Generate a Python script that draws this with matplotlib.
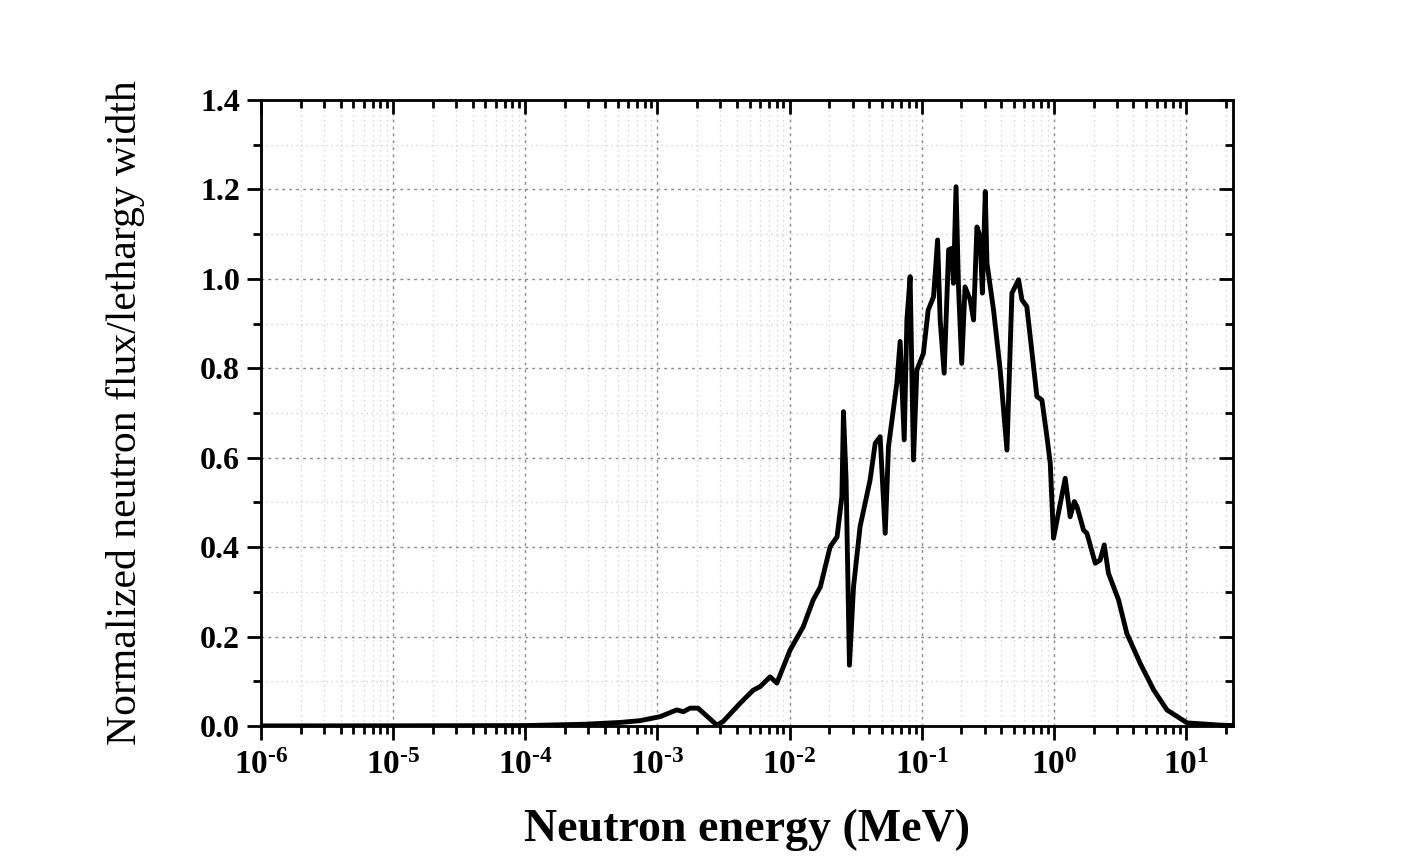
import numpy as np
import matplotlib
matplotlib.use("Agg")
import matplotlib.pyplot as plt
from matplotlib.ticker import LogLocator, MultipleLocator, FuncFormatter

# spectrum (energy in MeV, flux per lethargy, normalised)
energy = [1.0e-6, 3.16e-6, 1.0e-5, 2.7e-5, 1.0e-4, 2.84e-4, 5.22e-4, 7.40e-4,
          1.05e-3, 1.40e-3, 1.57e-3, 1.77e-3, 2.03e-3, 2.82e-3, 3.14e-3, 4.23e-3,
          5.30e-3, 5.98e-3, 7.13e-3, 8.02e-3, 1.01e-2, 1.27e-2, 1.51e-2, 1.71e-2,
          2.03e-2, 2.29e-2, 2.49e-2, 2.56e-2, 2.68e-2, 2.84e-2, 3.05e-2, 3.42e-2,
          4.07e-2, 4.45e-2, 4.85e-2, 5.30e-2, 5.61e-2, 6.49e-2, 6.87e-2, 7.38e-2,
          7.73e-2, 8.18e-2, 8.67e-2, 9.20e-2, 0.103, 0.112, 0.123, 0.132,
          0.138, 0.148, 0.160, 0.169, 0.174, 0.182, 0.190, 0.201,
          0.213, 0.233, 0.247, 0.262, 0.277, 0.288, 0.303, 0.312,
          0.350, 0.393, 0.442, 0.482, 0.541, 0.574, 0.625, 0.745,
          0.813, 0.887, 0.940, 0.995, 1.22, 1.33, 1.43, 1.50,
          1.68, 1.78, 2.06, 2.24, 2.41, 2.59, 3.09, 3.57,
          4.51, 5.69, 7.18, 10.2, 18.2, 22.7]
flux = [0.0003, 0.0004, 0.0005, 0.0007, 0.001, 0.004, 0.008, 0.012,
        0.021, 0.036, 0.032, 0.040, 0.040, 0.002, 0.010, 0.051,
        0.080, 0.088, 0.110, 0.096, 0.170, 0.222, 0.282, 0.311,
        0.401, 0.423, 0.513, 0.703, 0.550, 0.136, 0.311, 0.446,
        0.550, 0.632, 0.647, 0.431, 0.625, 0.767, 0.860, 0.640,
        0.908, 1.005, 0.595, 0.796, 0.833, 0.930, 0.960, 1.087,
        0.908, 0.789, 1.065, 1.068, 0.990, 1.206, 0.982, 0.811,
        0.982, 0.953, 0.908, 1.116, 1.094, 0.968, 1.195, 1.035,
        0.930, 0.796, 0.617, 0.968, 0.998, 0.953, 0.938, 0.737,
        0.729, 0.647, 0.588, 0.420, 0.554, 0.468, 0.502, 0.490,
        0.438, 0.431, 0.364, 0.371, 0.405, 0.342, 0.282, 0.207,
        0.140, 0.081, 0.036, 0.007, 0.002, 0.001]

plt.rcParams['font.family'] = ['Liberation Serif', 'DejaVu Serif']
plt.rcParams['font.weight'] = 'bold'
plt.rcParams['mathtext.fontset'] = 'custom'
plt.rcParams['mathtext.rm'] = 'Liberation Serif:bold'
plt.rcParams['mathtext.it'] = 'Liberation Serif:bold'
plt.rcParams['mathtext.bf'] = 'Liberation Serif:bold'

fig = plt.figure(figsize=(14.13, 8.67), dpi=100)
ax = fig.add_axes([0.1847, 0.1626, 0.6879, 0.7221])

ax.plot(energy, flux, color='black', lw=3.5, solid_joinstyle='round')

ax.set_xscale('log')
ax.set_xlim(1e-6, 22.7)
ax.set_ylim(0, 1.4)

ax.xaxis.set_major_locator(LogLocator(base=10, numticks=20))
ax.xaxis.set_minor_locator(LogLocator(base=10, subs=np.arange(2, 10), numticks=20))
ax.xaxis.set_major_formatter(FuncFormatter(lambda v, p: r'$10^{\text{%d}}$' % round(np.log10(v))))
ax.yaxis.set_major_locator(MultipleLocator(0.2))
ax.yaxis.set_minor_locator(MultipleLocator(0.1))
ax.yaxis.set_major_formatter(FuncFormatter(lambda v, p: '%.1f' % v))

ax.grid(which='major', linestyle=(0, (2, 3)), color='#888888', lw=1.0)
ax.grid(which='minor', linestyle=(0, (1, 3)), color='#cccccc', lw=0.9)
ax.set_axisbelow(True)

for s in ax.spines.values():
    s.set_linewidth(2.0)

ax.tick_params(which='both', direction='out', top=False, right=False, width=2)
ax.tick_params(axis='y', which='major', length=10, labelsize=23, pad=5)
ax.tick_params(axis='x', which='major', length=10, labelsize=24, pad=7)
ax.tick_params(which='minor', length=6)

# inward ticks on top and right, as in the original
ax2 = ax.twinx()
ax2.set_ylim(ax.get_ylim())
ax2.yaxis.set_major_locator(MultipleLocator(0.2))
ax2.yaxis.set_minor_locator(MultipleLocator(0.1))
ax2.tick_params(which='both', direction='in', labelright=False, width=2)
ax2.tick_params(which='major', length=10)
ax2.tick_params(which='minor', length=6)
ax3 = ax.twiny()
ax3.set_xscale('log')
ax3.set_xlim(ax.get_xlim())
ax3.xaxis.set_major_locator(LogLocator(base=10, numticks=20))
ax3.xaxis.set_minor_locator(LogLocator(base=10, subs=np.arange(2, 10), numticks=20))
ax3.tick_params(which='both', direction='in', labeltop=False, width=2)
ax3.tick_params(which='major', length=10)
ax3.tick_params(which='minor', length=6)

ax.set_xlabel('Neutron energy (MeV)', fontsize=33, fontweight='bold', labelpad=20)
ax.set_ylabel('Normalized neutron flux/lethargy width', fontsize=30, fontweight='normal', labelpad=40)

fig.savefig('out.png', dpi=100)
